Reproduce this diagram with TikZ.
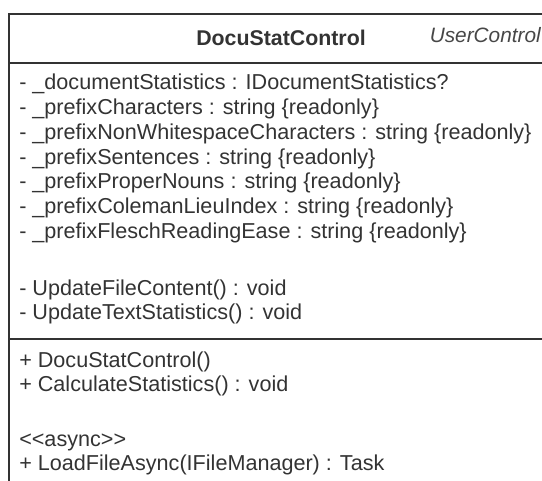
\documentclass[tikz,border=0pt]{standalone}
\usepackage{fontspec}
\setmainfont{Liberation Sans}
\usetikzlibrary{positioning}

\definecolor{umlline}{HTML}{333333}
\definecolor{umltext}{HTML}{333333}

\tikzset{
  member/.style={anchor=base west, inner sep=0pt, text=umltext, font=\fontsize{16.2}{18}\selectfont},
  classname/.style={inner sep=0pt, text=umltext, font=\bfseries\fontsize{16}{18}\selectfont},
  stereotype/.style={anchor=base east, inner sep=0pt, text=umltext!90, font=\itshape\fontsize{15.6}{18}\selectfont},
  umlbox/.style={draw=umlline, line width=1.8pt}
}

\begin{document}
\begin{tikzpicture}[x=0.75pt, y=-0.75pt]
    \useasboundingbox (0,0) rectangle (542,481);
    \clip (0,0) rectangle (542,481);

    % class box and compartment lines
    \coordinate (tl) at (9,14);
    \coordinate (br) at (553,500);
    \draw[umlbox] (tl) rectangle (br);
    \draw[umlbox] (9,63) -- (553,63);
    \draw[umlbox] (9,339) -- (553,339);

    % header
    \node[classname] (name) at (281,38) {DocuStatControl};
    \node[stereotype] (stereo) at (541,43) {UserControl};

    % attributes
    \foreach \txt [count=\i] in {
        {- \_documentStatistics : IDocumentStatistics?},
        {- \_prefixCharacters : string \{readonly\}},
        {- \_prefixNonWhitespaceCharacters : string \{readonly\}},
        {- \_prefixSentences : string \{readonly\}},
        {- \_prefixProperNouns : string \{readonly\}},
        {- \_prefixColemanLieuIndex : string \{readonly\}},
        {- \_prefixFleschReadingEase : string \{readonly\}}}
        \node[member] (attr\i) at (19,{90+24.7*(\i-1)}) {\txt};

    % private operations
    \node[member] (upd1) at (19,295) {- UpdateFileContent() : void};
    \node[member] (upd2) at (19,319) {- UpdateTextStatistics() : void};

    % public operations
    \node[member] (ctor) at (19,367) {+ DocuStatControl()};
    \node[member] (calc) at (19,391) {+ CalculateStatistics() : void};
    \node[member] (async) at (19,446) {<{}<async>{}>};
    \node[member] (load) at (19,470) {+ LoadFileAsync(IFileManager) : Task};

\end{tikzpicture}
\end{document}
